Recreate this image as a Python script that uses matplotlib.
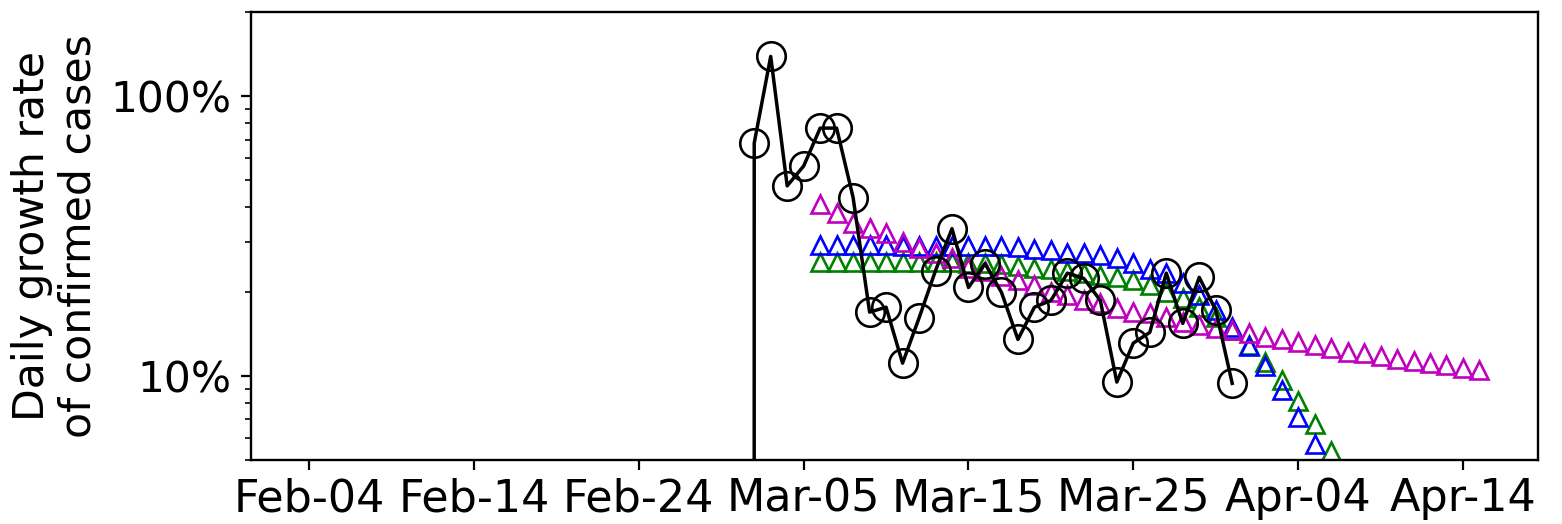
import numpy as np
import pandas as pd
import matplotlib
matplotlib.use("Agg")
import matplotlib.pyplot as plt
import matplotlib.dates as mdates
from matplotlib.ticker import FixedLocator, FuncFormatter, LogLocator, NullFormatter

# ---- data (daily growth rate as fraction) ----
observed_start = "2020-03-01"
observed = [0.0, 0.680, 1.388, 0.478, 0.563, 0.769, 0.769, 0.434, 0.169, 0.176,
            0.111, 0.161, 0.238, 0.336, 0.207, 0.252, 0.199, 0.135, 0.176, 0.186,
            0.233, 0.223, 0.186, 0.095, 0.131, 0.143, 0.233, 0.154, 0.225, 0.172,
            0.094]

magenta_start = "2020-03-06"
magenta = [0.413, 0.383, 0.353, 0.339, 0.323, 0.300, 0.286, 0.276, 0.263, 0.244,
           0.238, 0.227, 0.220, 0.211, 0.199, 0.194, 0.186, 0.182, 0.175, 0.169,
           0.168, 0.162, 0.156, 0.152, 0.148, 0.146, 0.142, 0.138, 0.135, 0.132,
           0.129, 0.126, 0.122, 0.121, 0.118, 0.115, 0.113, 0.111, 0.109, 0.107,
           0.105]

blue_start = "2020-03-06"
blue = [0.293, 0.293, 0.293, 0.293, 0.293, 0.292, 0.292, 0.292, 0.292, 0.292,
        0.291, 0.291, 0.288, 0.285, 0.281, 0.276, 0.276, 0.270, 0.263, 0.254,
        0.242, 0.233, 0.214, 0.194, 0.172, 0.149, 0.128, 0.108, 0.089, 0.071,
        0.057]

green_start = "2020-03-06"
green = [0.255, 0.255, 0.255, 0.255, 0.255, 0.255, 0.255, 0.255, 0.255, 0.254,
         0.254, 0.252, 0.248, 0.244, 0.242, 0.238, 0.234, 0.229, 0.225, 0.220,
         0.211, 0.199, 0.190, 0.176, 0.162, 0.146, 0.129, 0.112, 0.097, 0.081,
         0.067, 0.054]

tick_dates = ["2020-02-04", "2020-02-14", "2020-02-24", "2020-03-05",
              "2020-03-15", "2020-03-25", "2020-04-04", "2020-04-14"]
data_range = ("2020-02-04", "2020-04-15")
ylim = (0.05, 2.0)

def dates(start, n):
    return pd.date_range(start, periods=n, freq="D")

fig = plt.figure(figsize=(15.62, 5.24), dpi=100)
ax = fig.add_axes([0.1605, 0.1221, 0.9846 - 0.1605, 0.977 - 0.1221])
ax.set_yscale("log")

tri_kw = dict(linestyle="none", marker="^", markersize=12.5, markerfacecolor="none",
              markeredgewidth=1.9)
ax.plot(dates(green_start, len(green)), green, color="g", **tri_kw)
ax.plot(dates(blue_start, len(blue)), blue, color="b", **tri_kw)
ax.plot(dates(magenta_start, len(magenta)), magenta, color="m", **tri_kw)
ax.plot(dates(observed_start, len(observed)), observed, color="k", linewidth=2.5,
        marker="o", markersize=20.5, markerfacecolor="none", markeredgewidth=1.9)

d0 = pd.Timestamp(data_range[0])
d1 = pd.Timestamp(data_range[1])
margin = (d1 - d0) * 0.05
ax.set_xlim(d0 - margin, d1 + margin)
ax.set_ylim(*ylim)

ax.xaxis.set_major_locator(FixedLocator(mdates.date2num(pd.to_datetime(tick_dates))))
ax.xaxis.set_major_formatter(mdates.DateFormatter("%b-%d"))

ax.yaxis.set_major_locator(FixedLocator([0.1, 1.0]))
ax.yaxis.set_major_formatter(FuncFormatter(lambda v, p: f"{v*100:.0f}%"))
ax.yaxis.set_minor_locator(LogLocator(base=10, subs=np.arange(2, 10)))
ax.yaxis.set_minor_formatter(NullFormatter())

ax.tick_params(axis="x", which="major", labelsize=32, length=7.5, width=1.6, pad=5)
ax.tick_params(axis="y", which="major", labelsize=30.5, length=7, width=1.6, pad=7)
ax.tick_params(axis="y", which="minor", length=4, width=1.2)
for s in ax.spines.values():
    s.set_linewidth(1.7)

ax.set_ylabel("Daily growth rate\nof confirmed cases", fontsize=30.7, labelpad=8,
              linespacing=1.12)

fig.savefig("out.png", dpi=100)
